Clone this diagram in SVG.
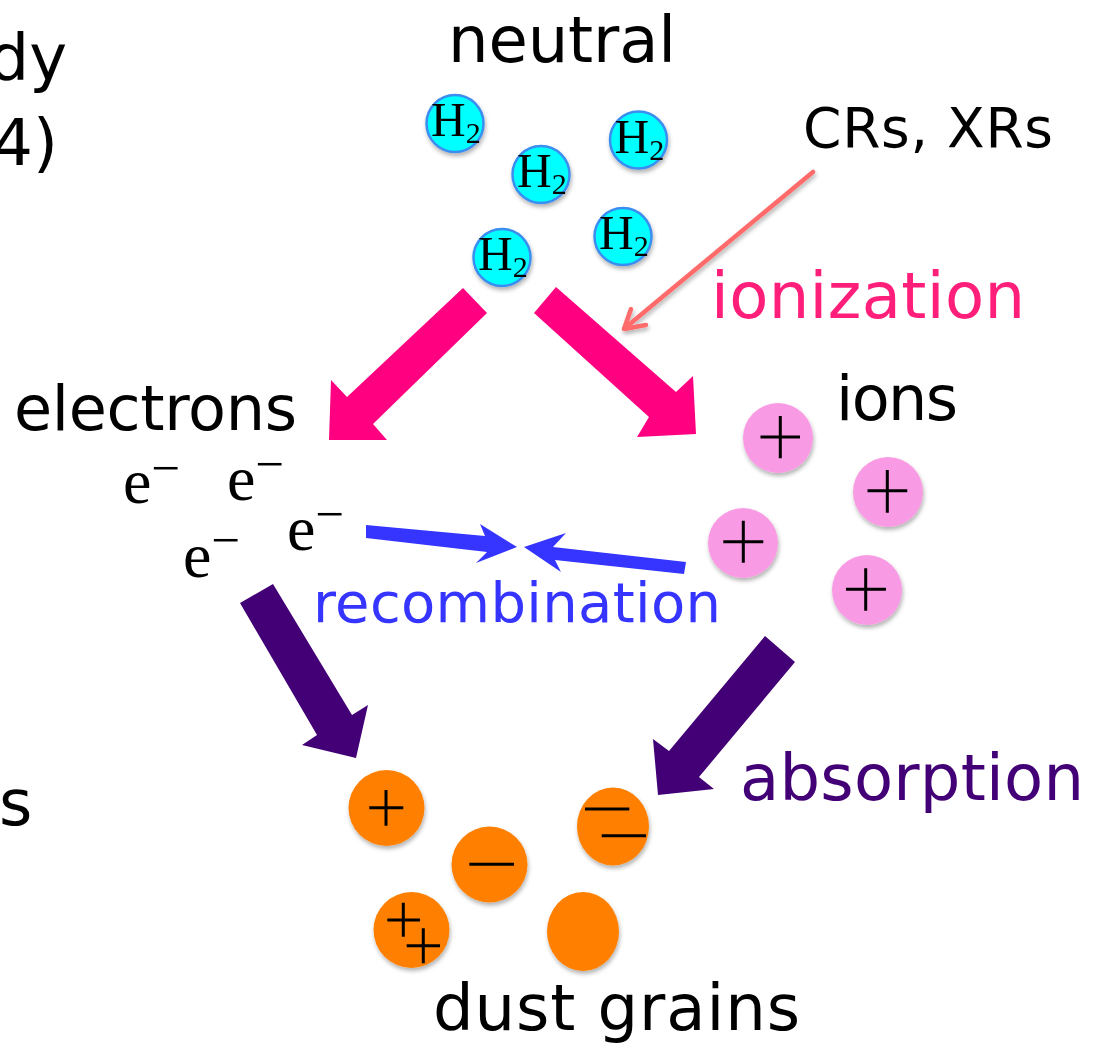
<svg xmlns="http://www.w3.org/2000/svg" width="1103" height="1054" viewBox="0 0 1103 1054">
<defs>
<filter id="sh" x="-30%" y="-30%" width="160%" height="160%">
<feDropShadow dx="1" dy="3" stdDeviation="2" flood-color="#000" flood-opacity="0.3"/>
</filter>
<style>
.lbl{font-family:"DejaVu Sans",sans-serif;font-size:64px;fill:#000}
.math{font-family:"Liberation Serif","DejaVu Serif",serif;fill:#000}
.h2c{fill:#00ffff;stroke:#3a8ef0;stroke-width:2.5}
.ion{fill:#f99be4}
.dust{fill:#ff8000}
.pink{fill:#ff0080}
.purp{fill:#430076}
.blue{fill:#3535ff}
.chg{stroke:#000;stroke-width:3;fill:none}
</style>
</defs>
<rect width="1103" height="1054" fill="#fff"/>

<g id="edge-texts">
<text class="lbl" x="67" y="80" text-anchor="end">dy</text>
<text class="lbl" x="58" y="165" text-anchor="end">4)</text>
<text class="lbl" x="-1" y="825">s</text>
</g>

<g id="neutral">
<text class="lbl" x="448" y="62" textLength="228">neutral</text>
<g id="h2-1" filter="url(#sh)"><circle class="h2c" cx="455" cy="123.5" r="28.5"/><text class="math" x="431" y="136" font-size="48">H<tspan font-size="30" dy="7">2</tspan></text></g>
<g id="h2-2" filter="url(#sh)"><circle class="h2c" cx="541" cy="174.5" r="28.5"/><text class="math" x="517" y="187" font-size="48">H<tspan font-size="30" dy="7">2</tspan></text></g>
<g id="h2-3" filter="url(#sh)"><circle class="h2c" cx="638.5" cy="140" r="28.5"/><text class="math" x="614.5" y="152.5" font-size="48">H<tspan font-size="30" dy="7">2</tspan></text></g>
<g id="h2-4" filter="url(#sh)"><circle class="h2c" cx="623" cy="236.5" r="28.5"/><text class="math" x="599" y="249" font-size="48">H<tspan font-size="30" dy="7">2</tspan></text></g>
<g id="h2-5" filter="url(#sh)"><circle class="h2c" cx="502" cy="257.5" r="28.5"/><text class="math" x="478" y="270" font-size="48">H<tspan font-size="30" dy="7">2</tspan></text></g>
</g>

<g id="cosmic-rays">
<text class="lbl" x="803" y="147" style="font-size:55px" textLength="250">CRs, XRs</text>
</g>

<g id="electrons">
<text class="lbl" x="14" y="430" style="font-size:62px" textLength="283">electrons</text>
<text id="e-1" class="math" x="123" y="503" font-size="64">e<tspan font-size="51" dy="-18">−</tspan></text>
<text id="e-2" class="math" x="227" y="500" font-size="64">e<tspan font-size="51" dy="-19">−</tspan></text>
<text id="e-3" class="math" x="183" y="577" font-size="64">e<tspan font-size="51" dy="-20">−</tspan></text>
<text id="e-4" class="math" x="287" y="550" font-size="64">e<tspan font-size="51" dy="-19">−</tspan></text>
</g>

<g id="ions">
<text class="lbl" x="836" y="420" style="font-size:62px" textLength="122">ions</text>
<g id="ion-1" filter="url(#sh)"><circle class="ion" cx="778" cy="438" r="35"/><path class="chg" d="M760.5,437H800M780.3,416V458.3"/></g>
<g id="ion-2" filter="url(#sh)"><circle class="ion" cx="888" cy="492" r="35"/><path class="chg" d="M867.5,490.7H907.3M887.3,470V512.7"/></g>
<g id="ion-3" filter="url(#sh)"><circle class="ion" cx="743" cy="543" r="35"/><path class="chg" d="M723.3,541.7H763.3M743.3,520.7V562.7"/></g>
<g id="ion-4" filter="url(#sh)"><circle class="ion" cx="867" cy="590" r="35"/><path class="chg" d="M846,589.3H886M865.7,568.3V610.7"/></g>
</g>

<g id="dust-grains">
<text class="lbl" x="433" y="1030" textLength="367">dust grains</text>
<g id="grain-1" filter="url(#sh)"><circle class="dust" cx="386.5" cy="808" r="38"/><path class="chg" d="M369.3,807.7H403.3M386,790V825.7"/></g>
<g id="grain-2" filter="url(#sh)"><circle class="dust" cx="489.5" cy="864.5" r="38"/><path class="chg" d="M469.3,864.3H514"/></g>
<g id="grain-3" filter="url(#sh)"><ellipse class="dust" cx="613" cy="826.5" rx="36" ry="39"/><path class="chg" d="M585,809H629.3M601.7,835.7H646"/></g>
<g id="grain-4" filter="url(#sh)"><circle class="dust" cx="411.5" cy="930" r="38"/><path class="chg" d="M387.3,920H420M403.3,902.7V936.7M406.7,945.7H440M423.3,928.3V963.3"/></g>
<g id="grain-5" filter="url(#sh)"><ellipse class="dust" cx="583" cy="931.5" rx="36" ry="39.5"/></g>
</g>

<g id="connectors">
<polygon class="pink" points="463,288 487,313 373,424 387,440 329,440 331,380 347,397"/>
<polygon class="pink" points="556,287 676,392 693,376 696,434 637,437 649,417 534,313"/>
<polygon class="purp" points="273,584 352,715 368,705 356,758 302,745 317,735 240,603"/>
<polygon class="purp" points="765,636 795,662 699,777 714,789 658,795 653,739 669,751"/>
<polygon class="blue" points="366,525 485,536 480,524 517,547 476,563 487,552 366,538"/>
<polygon class="blue" points="524,547 566,533 553,547 686,562 684,574 555,560 561,572"/>
<g filter="url(#sh)" fill="none" stroke="#ff6b6b" stroke-width="4.5" stroke-linecap="round" stroke-linejoin="round">
<line x1="813" y1="172" x2="625" y2="328"/>
<polyline points="631,309 624,329 646,325"/>
</g>
</g>

<g id="labels">
<text class="lbl" x="711" y="318" style="fill:#ff1f7a" textLength="314">ionization</text>
<text class="lbl" x="313" y="622" style="fill:#3535ff;font-size:56px" textLength="408">recombination</text>
<text class="lbl" x="740" y="800" style="fill:#430076" textLength="344">absorption</text>
</g>
</svg>
